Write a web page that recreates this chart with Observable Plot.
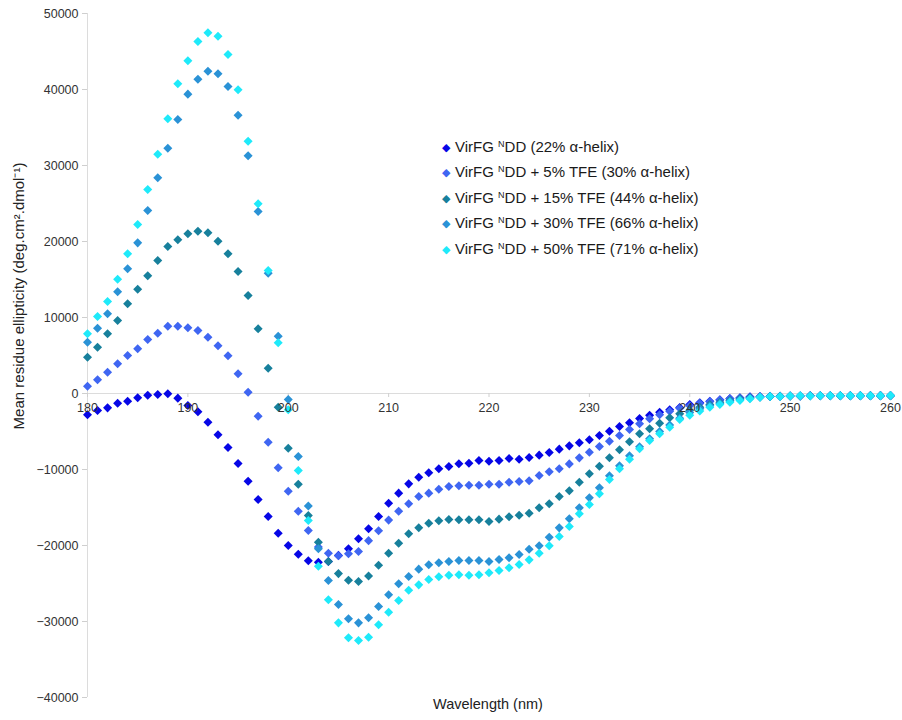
<!DOCTYPE html>
<html>
<head>
<meta charset="utf-8">
<script src="https://cdn.jsdelivr.net/npm/d3@7"></script>
<script src="https://cdn.jsdelivr.net/npm/@observablehq/plot@0.6"></script>
<style>
  html, body { margin: 0; padding: 0; background: #fff; }
  #wrap { position: relative; width: 902px; height: 720px; font-family: "Liberation Sans", Arial, Helvetica, sans-serif; }
  #legend { position: absolute; left: 442px; top: 135px; font-size: 15px; color: #1a1a1a; }
  #legend .row { height: 25.4px; line-height: 24px; white-space: nowrap; }
  #legend .sw { display: inline-block; width: 13px; font-size: 11px; vertical-align: 1px; }
  #legend sup { font-size: 9px; vertical-align: 5px; line-height: 0; }
</style>
</head>
<body>
<div id="wrap"><div id="legend"></div></div>
<script>
const wavelengths = [180,181,182,183,184,185,186,187,188,189,190,191,192,193,194,195,196,197,198,199,
  200,201,202,203,204,205,206,207,208,209,210,211,212,213,214,215,216,217,218,219,
  220,221,222,223,224,225,226,227,228,229,230,231,232,233,234,235,236,237,238,239,
  240,241,242,243,244,245,246,247,248,249,250,251,252,253,254,255,256,257,258,259,260];

const seriesNames = ["22% α-helix", "5% TFE (30% α-helix)", "15% TFE (44% α-helix)", "30% TFE (66% α-helix)", "50% TFE (71% α-helix)"];
const seriesColors = ["#0606e6", "#3f66f2", "#17809c", "#2a92d6", "#1eeafa"];

const s1 = [-2800,-2240,-1890,-1270,-1010,-570,-220,-130,-40,-610,-1580,-2410,-3770,-5440,-7100,-9210,-11540,-13950,-16180,-18380,
  -20000,-21140,-22000,-22190,-22100,-21300,-20440,-19120,-17810,-16180,-14430,-13110,-11890,-11010,-10430,-9900,-9610,-9250,-9170,-8820,
  -8900,-8820,-8550,-8640,-8420,-8110,-7760,-7320,-6890,-6490,-6100,-5530,-4960,-4340,-3850,-3300,-2870,-2460,-2150,-1850,
  -1450,-1230,-1010,-830,-660,-570,-430,-400,-370,-350,-330,-320,-300,-300,-290,-300,-280,-290,-280,-280,-270];

const s2 = [960,1800,2800,3900,5000,5880,7100,7930,8860,8860,8640,8290,7410,6270,4960,2590,150,-2980,-6420,-9780,
  -12850,-15500,-18030,-20200,-21010,-21350,-21100,-20800,-19360,-18050,-16660,-15480,-14520,-13550,-13110,-12610,-12240,-12150,-12060,-12060,
  -11930,-11930,-11670,-11580,-11490,-10790,-10310,-9910,-9260,-8470,-7720,-6970,-6270,-5530,-4740,-3990,-3330,-2800,-2350,-1950,
  -1600,-1300,-1050,-850,-700,-600,-480,-420,-380,-350,-340,-320,-310,-300,-300,-290,-290,-280,-290,-280,-280];

const s3 = [4780,6100,7850,9610,11800,13730,15480,17500,19340,20220,21010,21360,21140,20040,18380,16050,12890,8510,3330,-1800,
  -7190,-11930,-16050,-19560,-22110,-23700,-24560,-24740,-24020,-22590,-21010,-19700,-18450,-17650,-17060,-16750,-16580,-16620,-16620,-16620,
  -16850,-16530,-16220,-16030,-15750,-15040,-14520,-13550,-12800,-11670,-10570,-9560,-8460,-7410,-6360,-5310,-4650,-3900,-3200,-2680,
  -2200,-1800,-1450,-1150,-900,-700,-550,-450,-400,-360,-340,-320,-310,-300,-300,-290,-290,-290,-280,-280,-280];

const s4 = [6750,8600,10480,13380,16400,19820,24080,28380,32280,36050,39390,41360,42410,42060,40390,36620,31270,23950,15830,7540,
  -790,-8290,-14800,-20440,-24610,-27760,-29650,-30180,-29520,-28030,-26490,-25040,-24080,-23110,-22540,-22280,-22100,-21970,-21970,-21970,
  -22100,-21840,-21620,-21180,-20480,-20040,-18900,-17680,-16490,-15040,-13730,-12410,-10820,-9520,-8200,-7000,-5950,-5000,-4150,-3250,
  -2500,-2000,-1600,-1300,-1000,-800,-620,-480,-400,-370,-340,-320,-310,-300,-300,-290,-290,-280,-290,-280,-280];

const s5 = [7855,10130,12100,15040,18380,22240,26840,31490,36140,40750,43770,46320,47460,47020,44600,39960,33200,24960,16180,6670,
  -2150,-10130,-16710,-22720,-27130,-30180,-32150,-32500,-32060,-30440,-28770,-27240,-25880,-25180,-24470,-24120,-23900,-23860,-23900,-23860,
  -23600,-23290,-22940,-22500,-21890,-21010,-20040,-18820,-17500,-15830,-14610,-13200,-11320,-9900,-8640,-7280,-6180,-5310,-4430,-3420,
  -2850,-2300,-1800,-1450,-1140,-920,-700,-480,-380,-400,-330,-300,-330,-290,-310,-300,-290,-300,-290,-300,-260];

const seriesValues = [s1, s2, s3, s4, s5];
const xTicks = [180, 190, 200, 210, 220, 230, 240, 250, 260];
const yTicks = [-40000, -30000, -20000, -10000, 0, 10000, 20000, 30000, 40000, 50000];
const xLabel = "Wavelength (nm)";
const yLabel = "Mean residue ellipticity (deg.cm².dmol⁻¹)";

const fmt = d => d < 0 ? "\u2212" + Math.abs(d) : String(d);

const dotMarks = seriesValues.map((vals, k) =>
  Plot.dot(wavelengths.map((w, i) => ({w, v: vals[i]})), {
    x: "w", y: "v", symbol: "square", rotate: 45, r: 3.6,
    fill: seriesColors[k], stroke: "none"
  })
);

const svg = Plot.plot({
  width: 902, height: 720,
  marginLeft: 87, marginRight: 12, marginTop: 13, marginBottom: 23,
  style: { fontFamily: "'Liberation Sans', Arial, Helvetica, sans-serif", fontSize: "12px", color: "#333", background: "white" },
  x: { domain: [180, 260], axis: null },
  y: { domain: [-40000, 50000], axis: null },
  marks: [
    Plot.ruleX([180], { stroke: "#dcdcdc" }),
    Plot.ruleY([0], { stroke: "#dcdcdc" }),
    Plot.axisY(yTicks, { tickSize: 5, tickPadding: 4, tickFormat: fmt, label: null, stroke: "#cfcfcf", fill: "#333", fontSize: 12.5 }),
    Plot.ruleX(xTicks, { x: d => d, y1: d => 0, y2: d => 0, insetBottom: -4, stroke: "#cfcfcf" }),
    ...dotMarks,
    Plot.text(xTicks, { x: d => d, y: d => 0, dy: 14, text: d => String(d), fill: "#333", fontSize: 12.5 })
  ]
});

const sel = d3.select(svg);
sel.append("text")
  .attr("transform", "translate(20,296) rotate(-90)")
  .attr("text-anchor", "middle").attr("dominant-baseline", "middle")
  .attr("font-size", 15).attr("fill", "#222")
  .text(yLabel);
sel.append("text")
  .attr("x", 488).attr("y", 705)
  .attr("text-anchor", "middle").attr("dominant-baseline", "middle")
  .attr("font-size", 14.5).attr("fill", "#222")
  .text(xLabel);

const wrap = document.getElementById("wrap");
wrap.insertBefore(svg, wrap.firstChild);

const legend = d3.select("#legend");
seriesNames.forEach((name, k) => {
  const row = legend.append("div").attr("class", "row");
  row.append("span").attr("class", "sw").style("color", seriesColors[k]).text("◆");
  const t = row.append("span");
  t.append("span").text("VirFG ");
  t.append("sup").text("N");
  t.append("span").text(k === 0 ? "DD (" + name + ")" : "DD + " + name);
});
</script>
</body>
</html>
